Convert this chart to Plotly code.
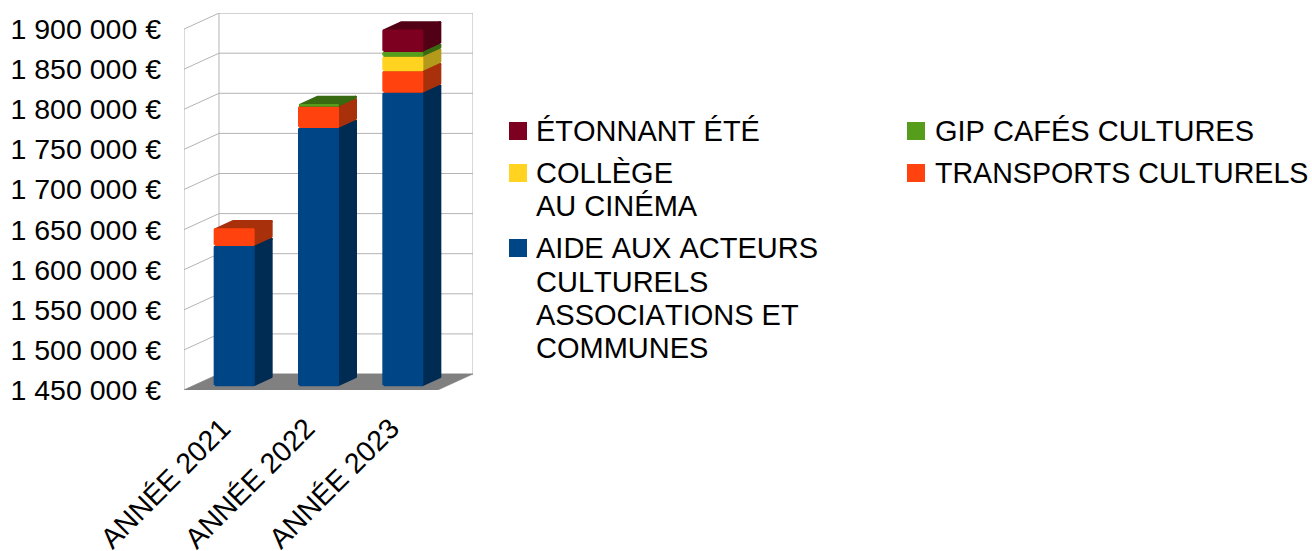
import plotly.graph_objects as go

# ---- data ----
categories = ["ANNÉE 2021", "ANNÉE 2022", "ANNÉE 2023"]
aide = [1625000, 1772000, 1816000]
transports = [22000, 27000, 27000]
college = [0, 0, 18000]
gip = [0, 3000, 6000]
etonnant = [0, 0, 28000]
tick_values = [1450000, 1500000, 1550000, 1600000, 1650000, 1700000,
               1750000, 1800000, 1850000, 1900000]
tick_labels = ["1 450 000 €", "1 500 000 €", "1 550 000 €", "1 600 000 €", "1 650 000 €",
               "1 700 000 €", "1 750 000 €", "1 800 000 €", "1 850 000 €", "1 900 000 €"]

# ---- styles ----
FONT = "Liberation Sans"
FS = 29
FS_TICK = 28.5
W, H = 1312, 551
L, R, T, B = 184, 473, 13, 390          # plot rectangle in pixels
CAT = 84.33                             # pixels per category
PXV = 50000 / 40.1                      # value units per pixel
XMIN, XMAX = -0.5, -0.5 + (R - L) / CAT
YMIN = 1450000
YMAX = YMIN + (B - T) * PXV
DX, DY = 35 / CAT, 16 * PXV             # full depth of the floor
BW = 41 / CAT                           # bar width
BO, BD = 8 / 35, 18 / 35                # bar offset / depth as a share of floor depth
GRID = "#b3b3b3"
STROKE = 2.5                            # rounded outline of each face
IX, IY = (STROKE / 2) / CAT, (STROKE / 2) * PXV   # inset that compensates for it

series = [
    ("AIDE", aide, "#004586", "#002b53"),
    ("TRANSPORTS", transports, "#ff420e", "#a8300a"),
    ("COLLEGE", college, "#ffd320", "#b39a1b"),
    ("GIP", gip, "#579d1c", "#386a12"),
    ("ETONNANT", etonnant, "#7e0021", "#520015"),
]

fig = go.Figure()


def poly(xs, ys, fill, width=1.0):
    fig.add_trace(go.Scatter(x=xs, y=ys, mode="lines", fill="toself", fillcolor=fill,
                             line=dict(color=fill, width=width), cliponaxis=False,
                             hoverinfo="skip", showlegend=False))


def lines(xs, ys):
    fig.add_trace(go.Scatter(x=xs, y=ys, mode="lines", line=dict(color=GRID, width=1),
                             cliponaxis=False, hoverinfo="skip", showlegend=False))


# walls
gx, gy = [], []
for v in tick_values:
    gx += [XMIN, XMIN + DX, XMAX, None]
    gy += [v, v + DY, v + DY, None]
gx += [XMIN, XMIN, None, XMIN + DX, XMIN + DX, None, XMAX, XMAX]
gy += [YMIN, tick_values[-1], None, YMIN + DY, tick_values[-1] + DY, None,
       YMIN + DY, tick_values[-1] + DY]
lines(gx, gy)

# floor
poly([XMIN, XMAX - DX, XMAX, XMIN + DX, XMIN],
     [YMIN, YMIN, YMIN + DY, YMIN + DY, YMIN], "#808080", width=0.5)

# stacked bars
bottoms = [YMIN] * len(categories)
for k, (name, vals, front, side) in enumerate(series):
    sx, sy, tx, ty, fx, fy = [], [], [], [], [], []
    new_bottoms = []
    for i, v in enumerate(vals):
        lo = bottoms[i]
        hi = v if k == 0 else lo + v
        new_bottoms.append(hi)
        if hi == lo:
            continue
        x0 = i - BW / 2 + BO * DX
        x1 = i + BW / 2 + BO * DX
        ox, oy = BD * DX, BD * DY
        base = BO * DY
        y0, y1 = lo + base, hi + base
        fx += [x0 + IX, x1 - IX, x1 - IX, x0 + IX, x0 + IX, None]
        fy += [y0 + IY, y0 + IY, y1 - IY, y1 - IY, y0 + IY, None]
        sx += [x1 - IX, x1 + ox - IX, x1 + ox - IX, x1 - IX, x1 - IX, None]
        sy += [y0 + IY, y0 + oy + IY, y1 + oy - IY, y1 - IY, y0 + IY, None]
        tx += [x0 + IX, x1 - IX, x1 + ox - IX, x0 + ox + IX, x0 + IX, None]
        ty += [y1 - IY, y1 - IY, y1 + oy - IY, y1 + oy - IY, y1 - IY, None]
    bottoms = new_bottoms
    poly(sx, sy, side, width=STROKE)
    poly(tx, ty, side, width=STROKE)
    poly(fx, fy, front, width=STROKE)


# legend
def px(x):
    return (x - L) / (R - L)


def py(y):
    return (B - y) / (B - T)


legend = [
    (509, 534, FS, ["ÉTONNANT ÉTÉ"], "#7e0021", [131]),
    (907, 933, FS, ["GIP CAFÉS CULTURES"], "#579d1c", [131]),
    (509, 534, FS, ["COLLÈGE", "AU CINÉMA"], "#ffd320", [173, 206]),
    (907, 933, 28.6, ["TRANSPORTS CULTURELS"], "#ff420e", [173]),
    (509, 534, FS, ["AIDE AUX ACTEURS", "CULTURELS", "ASSOCIATIONS ET", "COMMUNES"],
     "#004586", [248, 282, 315, 348]),
]
shapes, annotations = [], []
for sw, tx_, size, texts, col, ys in legend:
    yc = ys[0]
    shapes.append(dict(type="rect", xref="paper", yref="paper", x0=px(sw), x1=px(sw + 18),
                       y0=py(yc - 9), y1=py(yc + 9), fillcolor=col, line=dict(width=0)))
    for t, y in zip(texts, ys):
        annotations.append(dict(text=t, xref="paper", yref="paper", x=px(tx_), y=py(y),
                                xanchor="left", yanchor="middle", align="left", showarrow=False,
                                font=dict(family=FONT, size=size, color="#000000")))

fig.update_layout(
    width=W, height=H, autosize=False, showlegend=False,
    margin=dict(l=L, r=W - R, t=T, b=H - B, pad=0, autoexpand=False),
    paper_bgcolor="white", plot_bgcolor="white",
    font=dict(family=FONT, size=FS, color="#000000"),
    shapes=shapes, annotations=annotations,
    xaxis=dict(range=[XMIN, XMAX], tickmode="array",
               tickvals=[i - 4 / CAT for i in range(len(categories))], ticktext=categories,
               tickangle=-45, showgrid=False, zeroline=False, showline=False, ticks="",
               ticklabeloverflow="allow", ticklabelstandoff=15, fixedrange=True, automargin=False,
               tickfont=dict(family=FONT, size=FS_TICK, color="#000000")),
    yaxis=dict(range=[YMIN, YMAX], tickmode="array", tickvals=tick_values, ticktext=tick_labels,
               showgrid=False, zeroline=False, showline=False, ticks="", automargin=False,
               ticklabelstandoff=22, fixedrange=True,
               tickfont=dict(family=FONT, size=FS_TICK, color="#000000")),
)

fig.write_html("out.html", config=dict(displayModeBar=False),
               post_script=("document.body.style.margin='0';document.body.style.overflow='hidden';"
                            "var s=document.createElement('style');"
                            "s.textContent='svg text{font-kerning:none}"
                            " .scatterlayer path{stroke-linejoin:round}';"
                            "document.head.appendChild(s);"))
